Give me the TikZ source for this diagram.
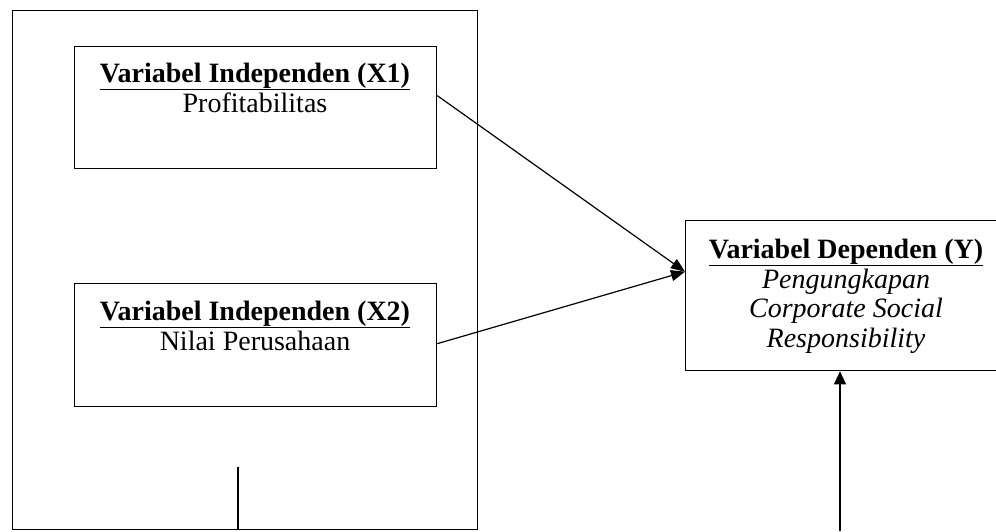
\documentclass[tikz,border=0pt]{standalone}
\usepackage{fontspec}
\setmainfont{Liberation Serif}
\usetikzlibrary{arrows.meta}
\begin{document}
\begin{tikzpicture}[x=1pt,y=-1pt,
  box/.style={draw, line width=1.3pt, rectangle, inner sep=0pt, anchor=north west},
  txt/.style={anchor=base, inner sep=0pt, font=\fontsize{28}{30}\selectfont},
  conn/.style={line width=1.2pt},
  tip/.style={-{Triangle[length=14pt,width=11pt]}}]
\useasboundingbox (0,0) rectangle (996,531);
\node[box, minimum width=465pt, minimum height=519pt] (outer) at (12,10) {};
\node[box, minimum width=362pt, minimum height=122pt] (x1) at (74,46) {};
\node[box, minimum width=362pt, minimum height=123pt] (x2) at (74,283) {};
\node[box, minimum width=322pt, minimum height=150pt] (y) at (685,220) {};
\node[txt] (x1a) at (255,82) {\textbf{\underline{Variabel Independen (X1)}}};
\node[txt] (x1b) at (255,112) {Profitabilitas};
\node[txt] (x2a) at (255,320) {\textbf{\underline{Variabel Independen (X2)}}};
\node[txt] (x2b) at (255,350) {Nilai Perusahaan};
\node[txt] (ya) at (846,258) {\textbf{\underline{Variabel Dependen (Y)}}};
\node[txt] (yb) at (846,288) {\textit{Pengungkapan}};
\node[txt] (yc) at (846,317) {\textit{Corporate Social}};
\node[txt] (yd) at (846,347) {\textit{Responsibility}};
\coordinate (p1) at (238,467);
\coordinate (p2) at (840,531);
\draw[conn, tip] ([yshift=12pt]x1.east) -- ([yshift=24pt]y.west);
\draw[conn, tip] ([yshift=1.5pt]x2.east) -- ([yshift=24pt]y.west);
\draw[conn] (p1) -- (p1 |- outer.south);
\draw[conn, -{Triangle[length=13pt,width=12pt]}] (p2) -- (p2 |- y.south);
\end{tikzpicture}
\end{document}
